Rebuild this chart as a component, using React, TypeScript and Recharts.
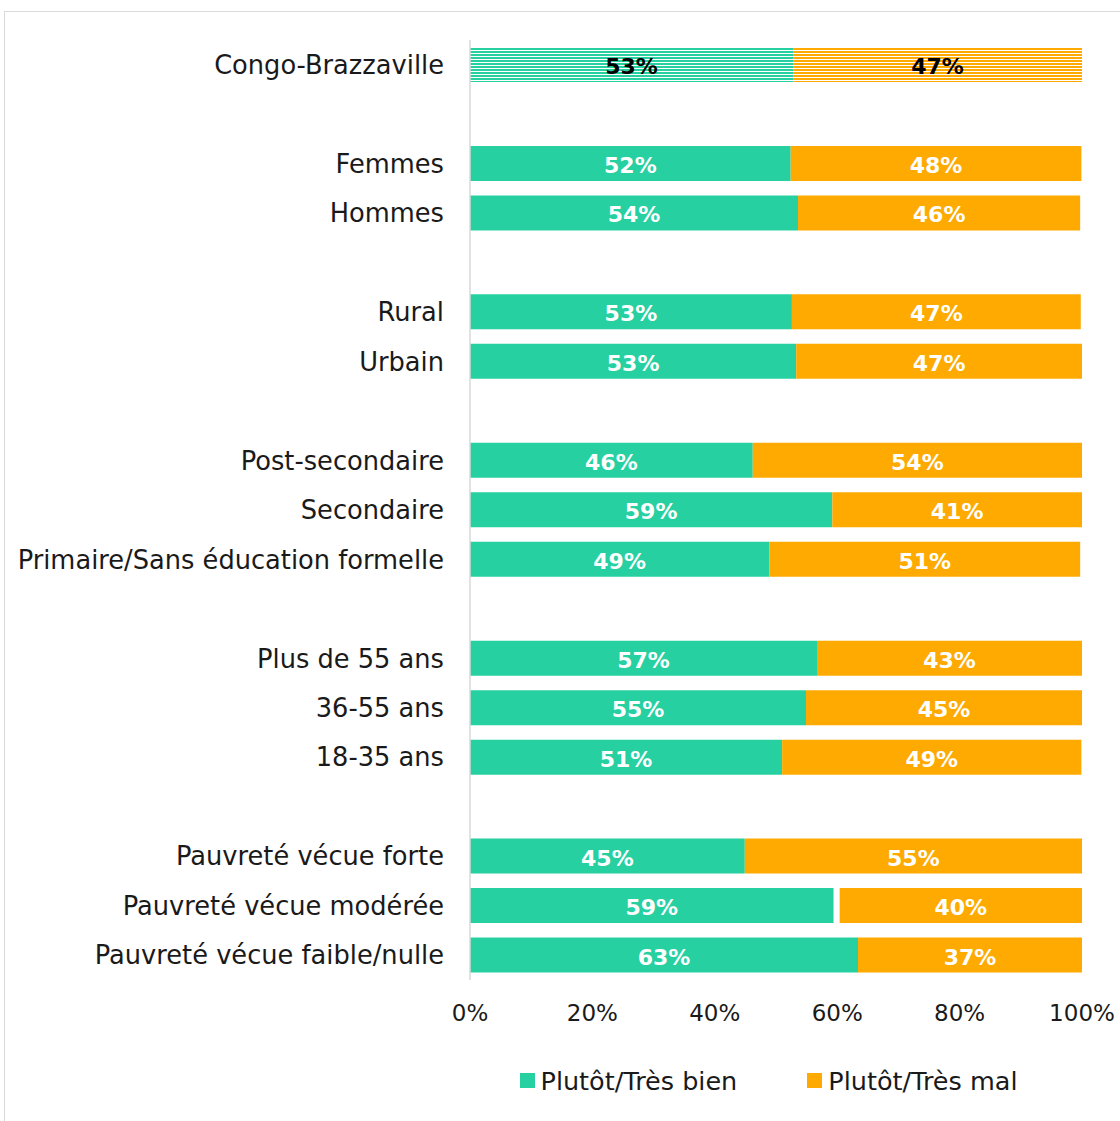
import React from 'react';
import { BarChart, Bar, XAxis, YAxis, Legend, LabelList, Cell } from 'recharts';

const categories = [
  'Congo-Brazzaville', '', 'Femmes', 'Hommes', '', 'Rural', 'Urbain', '',
  'Post-secondaire', 'Secondaire', 'Primaire/Sans éducation formelle', '',
  'Plus de 55 ans', '36-55 ans', '18-35 ans', '',
  'Pauvreté vécue forte', 'Pauvreté vécue modérée', 'Pauvreté vécue faible/nulle',
];
const bien = [52.8, null, 52.4, 53.6, null, 52.6, 53.3, null, 46.2, 59.2, 48.9, null, 56.7, 54.9, 51.0, null, 44.9, 59.4, 63.4];
const autre = [0, null, 0, 0, null, 0, 0, null, 0, 0, 0, null, 0, 0, 0, null, 0, 1.0, 0];
const mal = [47.2, null, 47.5, 46.1, null, 47.2, 46.7, null, 53.8, 40.8, 50.8, null, 43.3, 45.1, 48.9, null, 55.1, 39.9, 36.6];
const xTicks = [0, 20, 40, 60, 80, 100];

const GREEN = '#26D0A1';
const ORANGE = '#FFAA00';
const FONT = '"DejaVu Sans", sans-serif';

const data = categories.map((name, i) => ({
  key: `r${i}`,
  name,
  bien: bien[i],
  autre: autre[i],
  mal: mal[i],
}));

const renderValue = (props: any) => {
  const { x, y, width, height, value, index } = props;
  if (value == null || value === 0) return null;
  return (
    <text
      x={x + width / 2}
      y={y + height / 2 + 2}
      textAnchor="middle"
      dominantBaseline="central"
      fontFamily={FONT}
      fontWeight="bold"
      fontSize={22}
      fill={index === 0 ? '#000' : '#fff'}
    >
      {Math.round(value)}%
    </text>
  );
};

const LegendBox = () => (
  <div style={{ display: 'flex', justifyContent: 'center', alignItems: 'center', height: 77, fontFamily: FONT, fontSize: 25.5, color: '#1a1a1a', paddingLeft: 450, paddingTop: 4, boxSizing: 'border-box' }}>
    <div style={{ display: 'flex', alignItems: 'center', marginRight: 70 }}>
      <span style={{ width: 15, height: 15, background: GREEN, marginRight: 6, display: 'inline-block' }} />
      Plutôt/Très bien
    </div>
    <div style={{ display: 'flex', alignItems: 'center' }}>
      <span style={{ width: 15, height: 15, background: ORANGE, marginRight: 6, display: 'inline-block' }} />
      Plutôt/Très mal
    </div>
  </div>
);

export default function App() {
  return (
    <div style={{ position: 'fixed', left: 4, top: 11, width: 1140, height: 1140, border: '1px solid #d9d9d9', background: '#fff' }}>
      <BarChart
        width={1115}
        height={1105}
        data={data}
        layout="vertical"
        margin={{ top: 28, right: 38, bottom: 0, left: 0 }}
        barSize={35}
      >
        <defs>
          <pattern id="hatchG" patternUnits="userSpaceOnUse" width={8} height={3}>
            <rect width={8} height={3} fill="#fff" />
            <rect width={8} height={2} fill={GREEN} />
          </pattern>
          <pattern id="hatchO" patternUnits="userSpaceOnUse" width={8} height={3}>
            <rect width={8} height={3} fill="#fff" />
            <rect width={8} height={2} fill={ORANGE} />
          </pattern>
        </defs>
        <XAxis
          type="number"
          domain={[0, 100]}
          allowDataOverflow
          ticks={xTicks}
          tickFormatter={(v) => `${v}%`}
          axisLine={false}
          tickLine={false}
          tickMargin={19}
          height={60}
          tick={{ fontFamily: FONT, fontSize: 23, fill: '#1a1a1a' }}
        />
        <YAxis
          type="category"
          dataKey="key"
          width={465}
          tickFormatter={(v, i) => categories[i]}
          axisLine={{ stroke: '#d9d9d9', strokeWidth: 1.5 }}
          tickLine={false}
          tickSize={0}
          tickMargin={26}
          interval={0}
          tick={{ fontFamily: FONT, fontSize: 25.7, fill: '#1a1a1a' }}
        />
        <Legend verticalAlign="bottom" content={<LegendBox />} />
        <Bar dataKey="bien" stackId="a" fill={GREEN} isAnimationActive={false}>
          {data.map((d, i) => (
            <Cell key={d.key} fill={i === 0 ? 'url(#hatchG)' : GREEN} />
          ))}
          <LabelList dataKey="bien" content={renderValue} />
        </Bar>
        <Bar dataKey="autre" stackId="a" fill="#fff" fillOpacity={0} isAnimationActive={false} />
        <Bar dataKey="mal" stackId="a" fill={ORANGE} isAnimationActive={false}>
          {data.map((d, i) => (
            <Cell key={d.key} fill={i === 0 ? 'url(#hatchO)' : ORANGE} />
          ))}
          <LabelList dataKey="mal" content={renderValue} />
        </Bar>
      </BarChart>
    </div>
  );
}
